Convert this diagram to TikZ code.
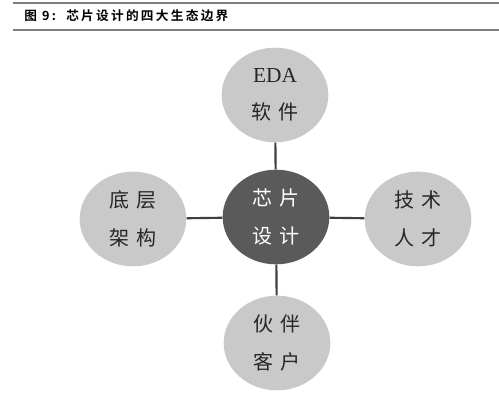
\documentclass[tikz,border=0pt]{standalone}
\usepackage{fontspec}
\setmainfont{Liberation Serif}
\newfontfamily\cjk{Noto Sans CJK SC}[BoldFont={Noto Sans CJK SC Bold}]
\newfontfamily\cjktitle{Noto Sans CJK SC Bold}[LetterSpace=18]
\usetikzlibrary{shapes.geometric}
\definecolor{lightc}{HTML}{C9C9C9}
\definecolor{darkc}{HTML}{5A5A5A}
\definecolor{linkc}{HTML}{3F3F3F}
\definecolor{rulec}{HTML}{7F7F7F}
\newcommand\pair[2]{#1\hspace{5pt}#2}

\begin{document}
\begin{tikzpicture}[x=0.75pt,y=-0.75pt,
	blob/.style={ellipse, fill=lightc, minimum width=80pt, minimum height=71pt,
		align=center, font=\cjk\fontsize{15}{28}\selectfont, text=black!85},
	hub/.style={blob, fill=darkc, text=white},
	link/.style={draw=linkc, line width=1.6pt}]
\useasboundingbox (0,0) rectangle (499,410);
% title bar
\draw [rulec, line width=1.1pt](13,3) -- (499,3);
\draw [rulec, line width=1.1pt](13,30) -- (499,30);
\node [anchor=west, inner sep=0pt, font=\cjktitle\fontsize{9.5}{11}\selectfont] (title) at (24,16) {图 9:\ \ 芯片设计的四大生态边界};
% nodes
\node [hub] (mid) at (276,217) {\pair{芯}{片}\\\pair{设}{计}};
\node [blob] (eda) at (275,95) {{\rmfamily\fontsize{16}{28}\selectfont EDA}\\\pair{软}{件}};
\node [blob] (base) at (133,219) {\pair{底}{层}\\\pair{架}{构}};
\node [blob] (talent) at (418,219) {\pair{技}{术}\\\pair{人}{才}};
\node [blob] (client) at (277,343) {\pair{伙}{伴}\\\pair{客}{户}};
% links
\foreach \n in {eda,base,talent,client} {
	\draw [link](mid) -- (\n);
}
\end{tikzpicture}
\end{document}
